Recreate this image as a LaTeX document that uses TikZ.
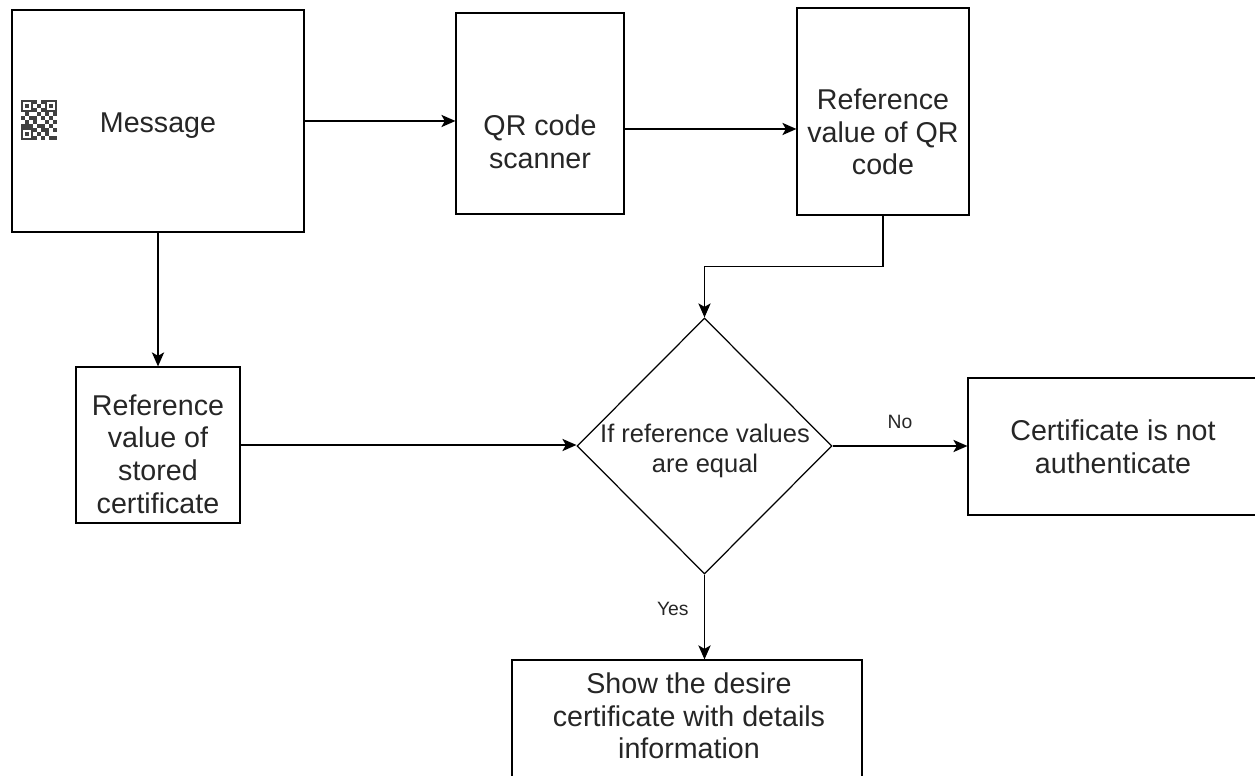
\documentclass[tikz,border=0pt]{standalone}
\usepackage{fontspec}
\setmainfont{Liberation Sans}
\usetikzlibrary{arrows.meta,shapes.geometric}

\begin{document}
\begin{tikzpicture}[x=0.02cm,y=-0.02cm,->,>={Stealth[length=8pt,width=7pt,inset=2pt]},line width=0.7pt,
                    box/.style={draw,rectangle,inner sep=0pt},
                    decision/.style={draw,diamond,aspect=1,inner sep=0pt},
                    main text/.style={align=center,text=black!85,font=\fontsize{16.3}{18.6}\selectfont},
                    small text/.style={text=black!85,font=\fontsize{11}{13}\selectfont}]

  \useasboundingbox (0,0) rectangle (1255,776);
  \clip (0,0) rectangle (1255,776);

  \node[box,minimum width=5.84cm,minimum height=4.44cm] (msg) at (158,121) {};
  \node[box,minimum width=3.36cm,minimum height=4.02cm] (scan) at (540,113.5) {};
  \node[box,minimum width=3.44cm,minimum height=4.14cm] (refqr) at (883,111.5) {};
  \node[box,minimum width=3.28cm,minimum height=3.12cm] (stored) at (158,445) {};
  \node[decision,minimum width=5.1cm,minimum height=5.12cm] (dec) at (704.5,446) {};
  \node[box,minimum width=5.8cm,minimum height=2.74cm] (nauth) at (1113,446.5) {};
  \node[box,minimum width=7cm,minimum height=2.4cm] (show) at (687,720) {};

  \node[main text] (msg text) at (158,126) {Message};
  \node[main text] (scan text) at (540,142) {QR code\\scanner};
  \node[main text] (refqr text) at (883,132) {Reference\\value of QR\\code};
  \node[main text] (stored text) at (158,454) {Reference\\value of\\stored\\certificate};
  \node[main text,font=\fontsize{14.5}{17}\selectfont] (dec text) at (705,451) {If reference values\\are equal};
  \node[main text] (nauth text) at (1113,447) {Certificate is not\\authenticate};
  \node[main text] (show text) at (689,716) {Show the desire\\certificate with details\\information};

  \fill[black!75] (21,100) rectangle ++(12,12);
  \fill[white] (23,102) rectangle ++(8,8);
  \fill[black!75] (25,104) rectangle ++(4,4);
  \fill[black!75] (45,100) rectangle ++(12,12);
  \fill[white] (47,102) rectangle ++(8,8);
  \fill[black!75] (49,104) rectangle ++(4,4);
  \fill[black!75] (21,128) rectangle ++(12,12);
  \fill[white] (23,130) rectangle ++(8,8);
  \fill[black!75] (25,132) rectangle ++(4,4);
  \foreach \c/\r in {3/0,4/1,5/0,3/2,5/2,4/3,0/4,1/3,2/4,3/4,5/4,6/3,7/4,8/5,1/5,3/5,4/6,
                     6/5,7/6,0/6,2/6,5/6,8/7,3/7,5/7,6/8,4/8,7/9,3/9,5/9,8/9,6/7,1/6,8/3}
    \fill[black!75] (21+4*\c,100+4*\r) rectangle ++(4,4);

\path
    (msg.east) edge (msg.east -| scan.west)
    ([yshift=-0.31cm]scan.east) edge ([yshift=-0.31cm]scan.east -| refqr.west)
    (msg.south) edge (stored.north)
    (stored.east) edge (stored.east -| dec.west)
    (dec.east) edge node[small text,above=0.22cm] (no) {No} (dec.east -| nauth.west)
    (dec.south) edge node[small text,left=0.19cm,pos=0.4] (yes) {Yes} (dec.south |- show.north)
;
\draw (refqr.south) -- ++(0,51) -| (dec.north);
\end{tikzpicture}
\end{document}
